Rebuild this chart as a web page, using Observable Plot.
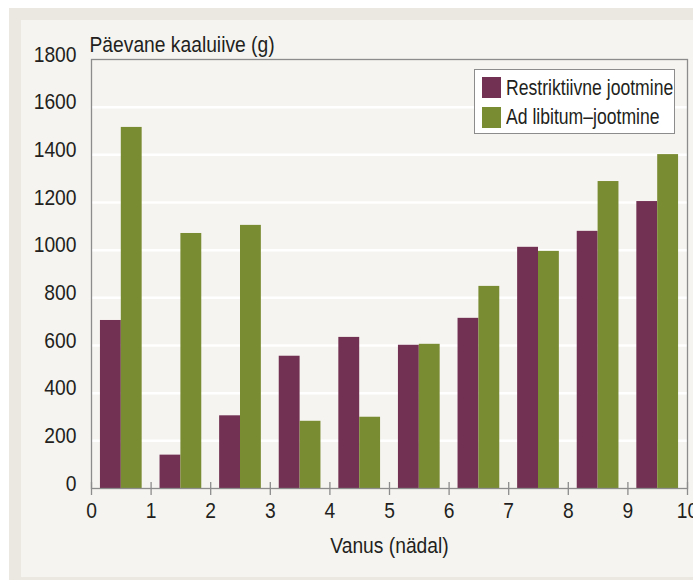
<!DOCTYPE html>
<html>
<head>
<meta charset="utf-8">
<script src="https://cdn.jsdelivr.net/npm/d3@7"></script>
<script src="https://cdn.jsdelivr.net/npm/@observablehq/plot@0.6"></script>
<style>
  html, body { margin: 0; padding: 0; background: #ffffff; overflow: hidden; width: 693px; height: 580px; }
  #band { position: absolute; left: 9px; top: 8px; width: 684px; height: 572px; background: #ebe8e2; }
  #panel { position: absolute; left: 21px; top: 20px; width: 672px; height: 557px; background: #f5f4f0; }
  #chart { position: absolute; left: 21px; top: 20px; }
  #chart svg { overflow: visible; }
  #legend { position: absolute; left: 474px; top: 69px; width: 199px; height: 63px; background: #ffffff;
            border: 1.2px solid #8c8c8c; font-family: "Liberation Sans", Arial, sans-serif;
            font-size: 22px; color: #231f20; }
  .item { position: absolute; left: 7px; display: flex; align-items: center; height: 21px; white-space: nowrap; }
  .sw { width: 19px; height: 21px; margin-right: 5px; flex: none; }
  .lbl { display: inline-block; transform: scaleX(0.80); transform-origin: left center; }
</style>
</head>
<body>
<div id="band"></div>
<div id="panel"></div>
<div id="chart"></div>
<div id="legend"></div>
<script>
const weeks = [0, 1, 2, 3, 4, 5, 6, 7, 8, 9];
const restriktiivne = [705, 140, 305, 555, 634, 601, 714, 1012, 1079, 1204];
const adLibitum = [1515, 1070, 1104, 282, 299, 605, 848, 995, 1288, 1401];
const seriesNames = ["Restriktiivne jootmine", "Ad libitum–jootmine"];
const seriesColors = ["#723052", "#7a8c32"];
const xTicks = [0, 1, 2, 3, 4, 5, 6, 7, 8, 9, 10];
const yTicks = [0, 200, 400, 600, 800, 1000, 1200, 1400, 1600, 1800];
const yTitle = "Päevane kaaluiive (g)";
const xTitle = "Vanus (nädal)";

const rows = [];
weeks.forEach((w, i) => {
  rows.push({week: w, series: seriesNames[0], idx: 0, value: restriktiivne[i]});
  rows.push({week: w, series: seriesNames[1], idx: 1, value: adLibitum[i]});
});

const font = "'Liberation Sans', Arial, sans-serif";
const textColor = "#231f20";
const frameColor = "#8c8c8c";
const condense = 0.875;

const chart = Plot.plot({
  width: 672,
  height: 557,
  marginLeft: 70,
  marginTop: 39,
  marginRight: 6,
  marginBottom: 89,
  style: {background: "transparent", fontFamily: font, fontSize: "22px", color: textColor, overflow: "visible"},
  x: {domain: [0, 10], label: null},
  y: {domain: [0, 1800], label: null},
  color: {domain: seriesNames, range: seriesColors},
  marks: [
    Plot.gridY(yTicks.slice(1, -1), {stroke: "#ffffff", strokeOpacity: 1, strokeWidth: 2.5}),
    Plot.rectY(rows, {
      x1: d => d.week + (d.idx === 0 ? 0.15 : 0.5),
      x2: d => d.week + (d.idx === 0 ? 0.5 : 0.85),
      y1: 0,
      y2: "value",
      fill: "series",
      inset: 0
    }),
    Plot.frame({stroke: frameColor, strokeWidth: 1.3}),
    Plot.axisY(yTicks, {tickSize: 0, tickPadding: 15, dy: -5, fontSize: 22, fill: textColor, label: null, tickFormat: d3.format("d")}),
    Plot.axisX(xTicks, {text: null, tickSize: 13, dy: -6, stroke: frameColor, strokeWidth: 1.3, label: null}),
    Plot.axisX(xTicks, {tickSize: 0, tickPadding: 14, fontSize: 22, fill: textColor, label: null, tickFormat: d3.format("d")}),
    Plot.text([yTitle], {frameAnchor: "top-left", textAnchor: "start", lineAnchor: "bottom", dx: -2, dy: -8, fontSize: 22, fill: textColor}),
    Plot.text([xTitle], {frameAnchor: "bottom", lineAnchor: "bottom", dy: 64, fontSize: 22, fill: textColor})
  ]
});
document.getElementById("chart").appendChild(chart);

// condense glyphs horizontally to imitate a condensed typeface
chart.querySelectorAll("text").forEach(t => {
  const len = t.getComputedTextLength();
  if (len > 0) {
    t.setAttribute("textLength", (len * condense).toFixed(2));
    t.setAttribute("lengthAdjust", "spacingAndGlyphs");
  }
});

const legend = document.getElementById("legend");
seriesNames.forEach((name, i) => {
  const item = document.createElement("div");
  item.className = "item";
  item.style.top = (7 + i * 29.5) + "px";
  const sw = document.createElement("div");
  sw.className = "sw";
  sw.style.background = seriesColors[i];
  const label = document.createElement("span");
  label.className = "lbl";
  label.textContent = name;
  item.appendChild(sw);
  item.appendChild(label);
  legend.appendChild(item);
});
</script>
</body>
</html>
